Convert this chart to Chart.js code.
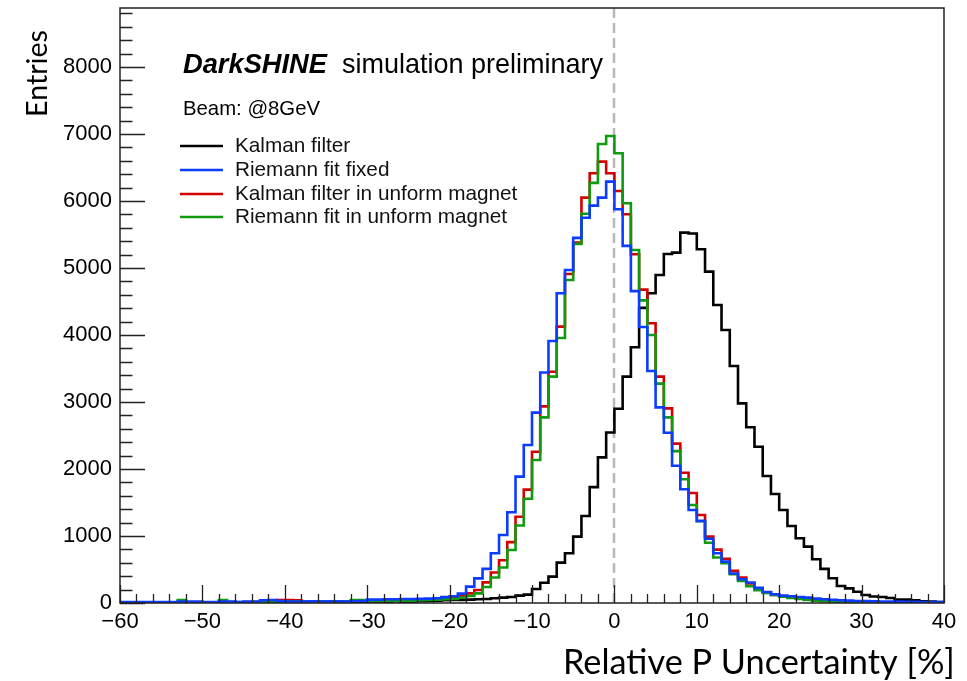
<!DOCTYPE html>
<html>
<head>
<meta charset="utf-8">
<script src="https://cdn.jsdelivr.net/npm/chart.js@4.4.0/dist/chart.umd.min.js"></script>
<style>
html, body { margin: 0; padding: 0; background: #fff; }
#c { display: block; }
</style>
</head>
<body>
<canvas id="c" width="967" height="681"></canvas>
<script>
// histogram binning: 100 bins of width 1 from -60 to 40
var binWidth = 1;
var binLow = [];
for (var b = -60; b < 40; b++) binLow.push(b);

// entries per bin (bins -60 ... 39)
var kalman = [
    0, 0, 0, 0, 0, 5, 0, 0, 5, 0,
    0, 5, 5, 0, 10, 5, 5, 10, 5, 10,
    10, 10, 5, 15, 20, 15, 15, 20, 15, 10,
    15, 20, 15, 25, 20, 20, 25, 30, 35, 40,
    45, 45, 50, 55, 60, 70, 80, 90, 110, 125,
    210, 303, 393, 602, 742, 990, 1299, 1730, 2174, 2545,
    2900, 3378, 3816, 4405, 4622, 4896, 5209, 5229, 5527, 5515,
    5279, 4945, 4448, 4075, 3537, 2980, 2622, 2333, 1896, 1627,
    1388, 1149, 966, 841, 652, 510, 369, 254, 219, 169,
    119, 97, 90, 75, 50, 50, 40, 25, 20, 15
];
var riemannFixed = [
    15, 15, 15, 15, 15, 15, 15, 20, 20, 20,
    15, 15, 20, 20, 15, 20, 20, 40, 45, 30,
    20, 20, 20, 25, 20, 25, 25, 20, 25, 30,
    50, 50, 55, 55, 60, 60, 62, 65, 70, 88,
    100, 140, 244, 368, 510, 742, 1015, 1355, 1886, 2358,
    2841, 3440, 3910, 4622, 4970, 5450, 5750, 5930, 6050, 6289,
    5876, 5330, 4655, 4120, 3462, 2920, 2540, 2048, 1697, 1388,
    1225, 958, 742, 617, 440, 355, 305, 225, 165, 130,
    110, 100, 90, 80, 65, 55, 48, 40, 35, 30,
    28, 25, 22, 20, 20, 18, 18, 15, 15, 15
];
var kalmanUniform = [
    5, 5, 5, 10, 5, 10, 5, 10, 10, 10,
    10, 10, 10, 15, 10, 15, 15, 15, 20, 45,
    45, 40, 20, 25, 20, 20, 25, 25, 30, 30,
    30, 30, 35, 35, 40, 40, 45, 50, 55, 65,
    80, 105, 144, 194, 308, 455, 637, 908, 1288, 1692,
    2258, 2935, 3452, 4124, 4910, 5378, 6050, 6413, 6587, 6413,
    6149, 5801, 5204, 4677, 4174, 3378, 2905, 2378, 1945, 1642,
    1313, 990, 796, 660, 480, 380, 290, 220, 160, 120,
    100, 80, 65, 50, 40, 30, 25, 20, 15, 12,
    10, 10, 8, 8, 6, 5, 5, 5, 4, 4
];
var riemannUniform = [
    5, 5, 5, 10, 5, 10, 10, 45, 10, 10,
    10, 10, 45, 10, 15, 10, 15, 15, 15, 15,
    20, 20, 20, 20, 20, 25, 25, 25, 45, 45,
    25, 25, 30, 30, 35, 35, 40, 45, 50, 55,
    60, 80, 104, 144, 239, 380, 530, 791, 1156, 1555,
    2134, 2770, 3378, 3955, 4821, 5360, 5810, 6270, 6851, 6970,
    6712, 5965, 5269, 4517, 4000, 3274, 2771, 2266, 1846, 1463,
    1220, 900, 680, 593, 430, 330, 250, 190, 150, 120,
    95, 75, 60, 45, 35, 28, 22, 18, 15, 12,
    10, 10, 8, 8, 6, 5, 5, 5, 4, 4
];

var seriesNames = ['Kalman filter', 'Riemann fit fixed', 'Kalman filter in unform magnet', 'Riemann fit in unform magnet'];
var seriesColors = ['#000000', '#0b3cff', '#d40000', '#0f9a0f'];
var xTicks = [-60, -50, -40, -30, -20, -10, 0, 10, 20, 30, 40];
var yTicks = [0, 1000, 2000, 3000, 4000, 5000, 6000, 7000, 8000];

// histogram -> step points (value holds until the next bin edge)
function toSteps(values) {
    var pts = values.map(function (v, i) { return { x: binLow[i], y: v }; });
    pts.push({ x: binLow[binLow.length - 1] + binWidth, y: values[values.length - 1] });
    return pts;
}

function fitFont(ctx, text, tpl, width) {
    ctx.font = tpl.replace('SIZE', 100);
    var size = 100 * width / ctx.measureText(text).width;
    return tpl.replace('SIZE', size.toFixed(2));
}

var decorations = {
    id: 'decorations',
    beforeDatasetsDraw: function (chart) {
        var ctx = chart.ctx, sx = chart.scales.x, a = chart.chartArea;
        var x0 = Math.round(sx.getPixelForValue(0));
        ctx.save();
        ctx.strokeStyle = '#b9b9b9';
        ctx.lineWidth = 2.5;
        ctx.setLineDash([10, 5]);
        ctx.beginPath();
        ctx.moveTo(x0, a.top);
        ctx.lineTo(x0, a.bottom);
        ctx.stroke();
        ctx.restore();
    },
    afterDatasetsDraw: function (chart) {
        var ctx = chart.ctx, sx = chart.scales.x, sy = chart.scales.y, a = chart.chartArea;
        ctx.save();

        // frame
        ctx.strokeStyle = '#222';
        ctx.lineWidth = 1.5;
        ctx.strokeRect(a.left, a.top, a.right - a.left, a.bottom - a.top);

        // ticks pointing into the frame
        ctx.lineWidth = 1.3;
        ctx.beginPath();
        for (var v = -60; v <= 40; v += 2) {
            var px = Math.round(sx.getPixelForValue(v)) + 0.5;
            var len = (v % 10 === 0) ? 18 : 9;
            ctx.moveTo(px, a.bottom);
            ctx.lineTo(px, a.bottom - len);
        }
        for (var w = 0; w <= 8800; w += 200) {
            var py = Math.round(sy.getPixelForValue(w)) + 0.5;
            var l2 = (w % 1000 === 0) ? 25 : 12.5;
            ctx.moveTo(a.left, py);
            ctx.lineTo(a.left + l2, py);
        }
        ctx.stroke();

        // labels
        ctx.fillStyle = '#000';
        ctx.textBaseline = 'alphabetic';
        ctx.textAlign = 'left';
        ctx.font = fitFont(ctx, 'DarkSHINE', 'italic bold SIZEpx "Liberation Sans"', 144);
        ctx.fillText('DarkSHINE', 183, 73);
        ctx.font = fitFont(ctx, 'simulation preliminary', 'SIZEpx "Liberation Sans"', 261);
        ctx.fillText('simulation preliminary', 342, 73);
        ctx.font = fitFont(ctx, 'Beam: @8GeV', 'SIZEpx "Liberation Sans"', 137);
        ctx.fillText('Beam: @8GeV', 183, 115);

        // legend
        var rowsLine = [146, 170, 194, 217];
        var rowsText = [152, 176, 200, 223];
        ctx.font = fitFont(ctx, seriesNames[3], 'SIZEpx "Liberation Sans"', 272);
        for (var i = 0; i < seriesNames.length; i++) {
            ctx.strokeStyle = seriesColors[i];
            ctx.lineWidth = 2.6;
            ctx.beginPath();
            ctx.moveTo(180, rowsLine[i]);
            ctx.lineTo(223, rowsLine[i]);
            ctx.stroke();
            ctx.fillStyle = '#111';
            ctx.fillText(seriesNames[i], 235, rowsText[i]);
        }

        // axis titles
        ctx.fillStyle = '#000';
        ctx.font = fitFont(ctx, 'Relative P Uncertainty [%]', 'SIZEpx Lato', 392);
        ctx.fillText('Relative P Uncertainty [%]', 563, 674);

        ctx.translate(47, 117);
        ctx.rotate(-Math.PI / 2);
        ctx.font = fitFont(ctx, 'Entries', 'SIZEpx Lato', 87);
        ctx.fillText('Entries', 0, 0);
        ctx.restore();
    }
};

var allSeries = [kalman, riemannFixed, kalmanUniform, riemannUniform];
var drawOrder = [3, 0, 2, 1]; // blue on top, then green, red, black below

var datasets = allSeries.map(function (vals, i) {
    return {
        label: seriesNames[i],
        data: toSteps(vals),
        borderColor: seriesColors[i],
        borderWidth: 2.6,
        stepped: true,
        fill: false,
        pointRadius: 0,
        order: drawOrder[i]
    };
});

new Chart(document.getElementById('c'), {
    type: 'line',
    data: { datasets: datasets },
    options: {
        responsive: false,
        animation: false,
        devicePixelRatio: 1,
        layout: { padding: { top: 8, right: 23, left: 0, bottom: 0 } },
        plugins: { legend: { display: false }, tooltip: { enabled: false } },
        elements: { line: { tension: 0, borderCapStyle: 'butt', borderJoinStyle: 'miter' } },
        scales: {
            x: {
                type: 'linear', min: -60, max: 40,
                grid: { display: false, drawTicks: false },
                border: { display: false },
                afterFit: function (s) { s.height = 78; s.paddingLeft = 0; s.paddingRight = 0; },
                afterBuildTicks: function (s) { s.ticks = xTicks.map(function (v) { return { value: v }; }); },
                ticks: {
                    autoSkip: false, maxRotation: 0, padding: 6, color: '#000',
                    font: { family: 'Liberation Sans', size: 22 },
                    callback: function (v) { return String(v).replace('-', '\u2212'); }
                }
            },
            y: {
                type: 'linear', min: 0, max: 8880,
                grid: { display: false, drawTicks: false },
                border: { display: false },
                afterFit: function (s) { s.width = 120; s.paddingTop = 0; s.paddingBottom = 0; },
                afterBuildTicks: function (s) { s.ticks = yTicks.map(function (v) { return { value: v }; }); },
                ticks: {
                    autoSkip: false, padding: 8, color: '#000',
                    font: { family: 'Liberation Sans', size: 22 },
                    callback: function (v) { return String(v); }
                }
            }
        }
    },
    plugins: [decorations]
});
</script>
</body>
</html>
